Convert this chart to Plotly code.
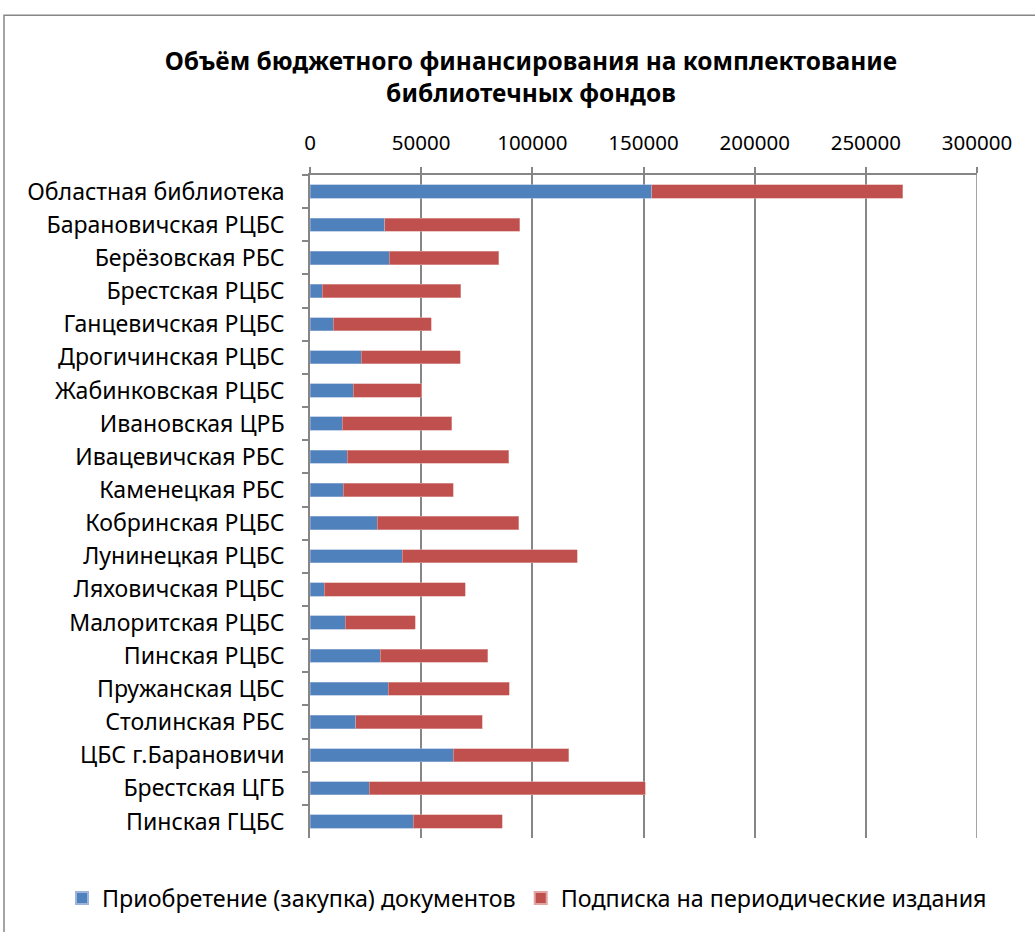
import plotly.graph_objects as go

categories = [
    "Областная библиотека", "Барановичская РЦБС", "Берёзовская РБС", "Брестская РЦБС",
    "Ганцевичская РЦБС", "Дрогичинская РЦБС", "Жабинковская РЦБС", "Ивановская ЦРБ",
    "Ивацевичская РБС", "Каменецкая РБС", "Кобринская РЦБС", "Лунинецкая РЦБС",
    "Ляховичская РЦБС", "Малоритская РЦБС", "Пинская РЦБС", "Пружанская ЦБС",
    "Столинская РБС", "ЦБС г.Барановичи", "Брестская ЦГБ", "Пинская ГЦБС",
]
purchase = [153800, 33600, 35700, 5600, 10500, 23100, 19500, 14500, 16800, 14900,
            30300, 41500, 6300, 15900, 31700, 35200, 20600, 64500, 26700, 46500]
subscription = [112800, 60800, 49100, 62200, 44100, 44400, 30700, 49300, 72600, 49600,
                63500, 78700, 63500, 31500, 48300, 54500, 56800, 51900, 124100, 40000]
series_names = ["Приобретение (закупка) документов", "Подписка на периодические издания"]
x_ticks = [0, 50000, 100000, 150000, 200000, 250000, 300000]

FONT = "'Noto Sans', sans-serif"
GRID = "#868686"

fig = go.Figure()
fig.add_trace(go.Bar(y=categories, x=purchase, name=series_names[0], orientation="h",
                     marker=dict(color="#4F81BD", line=dict(color="#9DB5DA", width=0.6))))
fig.add_trace(go.Bar(y=categories, x=subscription, name=series_names[1], orientation="h",
                     marker=dict(color="#C0504D", line=dict(color="#E0A6A4", width=0.6))))

fig.update_layout(
    barmode="stack",
    bargap=0.6,
    width=1035, height=932,
    margin=dict(l=310, r=58, t=175, b=85),
    paper_bgcolor="white", plot_bgcolor="white",
    font=dict(family=FONT, size=22, color="black"),
    title=dict(text="<b>Объём бюджетного финансирования на комплектование<br>библиотечных фондов</b>",
               x=0.513, xanchor="center", y=0.925, yanchor="middle",
               font=dict(family=FONT, size=24.5, color="black")),
    legend=dict(orientation="h", x=(62 - 310) / 667, xanchor="left", y=-0.091, yanchor="middle",
                font=dict(family=FONT, size=23.3, color="black"), traceorder="normal",
                itemwidth=30, itemsizing="constant"),
    showlegend=True,
)
fig.update_xaxes(
    side="top", range=[0, 300000], tickvals=x_ticks, ticktext=[str(v) for v in x_ticks],
    tickfont=dict(size=20.5),
    showgrid=True, gridcolor=GRID, gridwidth=1.5,
    showline=True, linecolor=GRID, linewidth=1.5,
    ticks="outside", ticklen=6, tickcolor=GRID, tickwidth=1.5,
    ticklabelstandoff=9, zeroline=False,
)
fig.update_yaxes(
    autorange="reversed", type="category",
    tickfont=dict(size=23.1),
    showline=True, linecolor=GRID, linewidth=1.5,
    ticks="outside", ticklen=6, tickcolor=GRID, tickwidth=1.5, tickson="boundaries",
    ticklabelstandoff=19, showgrid=False,
)
# gridline at the right end of the axis range (plotly omits it at the edge)
fig.add_shape(type="line", xref="x", yref="paper", x0=x_ticks[-1], x1=x_ticks[-1], y0=0, y1=1,
              line=dict(color=GRID, width=1.5), layer="below")
fig.add_shape(type="rect", xref="paper", yref="paper",
              x0=(4 - 310) / 667, x1=1.2, y0=-0.5, y1=(847 - 13) / 672,
              line=dict(color=GRID, width=1.5), fillcolor="rgba(0,0,0,0)", layer="below")

fig.write_html("out.html", post_script="document.body.style.margin='0';",
               config={"displayModeBar": False})
